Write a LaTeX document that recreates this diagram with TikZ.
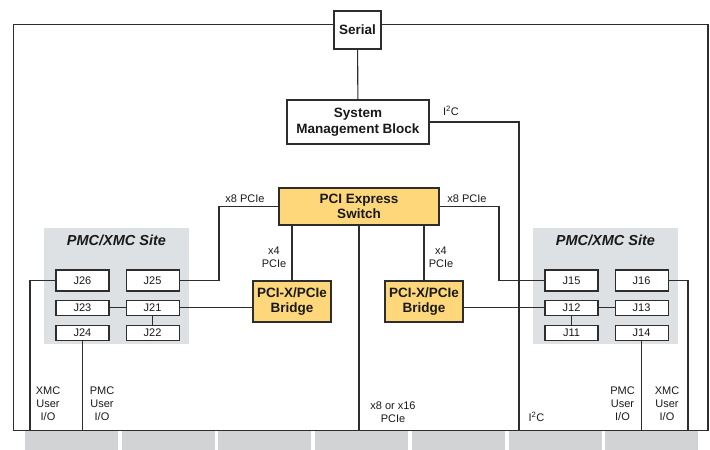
\documentclass[tikz,border=0pt]{standalone}
\usepackage{fontspec}
\setmainfont{Liberation Sans}
\usetikzlibrary{positioning}
\definecolor{swyellow}{RGB}{253,215,122}
\definecolor{sitegray}{RGB}{221,225,228}
\definecolor{slotgray}{RGB}{210,211,213}
\definecolor{linegray}{RGB}{45,45,45}

\begin{document}
\begin{tikzpicture}[x=1pt, y=1pt, line width=1.1pt, text=black!90]
	\tikzstyle{wire}=[draw=linegray]
	\tikzstyle{block}=[draw=linegray, fill=white, inner sep=0pt, align=center, font=\fontsize{13.5}{15.5}\selectfont\bfseries]
	\tikzstyle{chip}=[block, fill=swyellow]
	\tikzstyle{conn}=[draw=linegray, fill=white, minimum width=53pt, inner sep=0pt, font=\fontsize{11}{13}\selectfont]
	\tikzstyle{site}=[fill=sitegray]
	\tikzstyle{slot}=[fill=slotgray]
	\tikzstyle{annot}=[align=center, inner sep=0pt, font=\fontsize{11}{13.3}\selectfont]
	\tikzstyle{title}=[inner sep=0pt, font=\fontsize{14.5}{16}\selectfont\bfseries\itshape]

	\useasboundingbox (0,0) rectangle (710,450);

	\fill[site] (44,106) rectangle (189,222);
	\fill[site] (533,106) rectangle (678,222);
	\foreach \i in {0,...,6}
		\fill[slot] (25+96.7*\i,0) rectangle ++(93,18.7);
	\draw[wire] (13.5,19.5) rectangle (708,425.5);

	\node[block, minimum width=47pt, minimum height=38pt] (serial) at (357.5,420) {Serial};
	\node[block, minimum width=142pt, minimum height=44pt] (smb) at (358,328) {System\\Management Block};
	\node[chip, minimum width=160pt, minimum height=37pt] (sw) at (359,243.5) {PCI Express\\Switch};
	\node[chip, minimum width=78pt, minimum height=41pt] (lbr) at (292,148.5) {PCI-X/PCIe\\Bridge};
	\node[chip, minimum width=78pt, minimum height=41pt] (rbr) at (424,148.5) {PCI-X/PCIe\\Bridge};

	\node[title] (ltitle) at (116.5,210) {PMC/XMC Site};
	\node[conn, minimum height=21pt] (j26) at (82.5,169.5) {J26};
	\node[conn, minimum height=21pt, right=16pt of j26] (j25) {J25};
	\node[conn, minimum height=15pt, below=8pt of j26] (j23) {J23};
	\node[conn, minimum height=15pt, below=8pt of j25] (j21) {J21};
	\node[conn, minimum height=15pt, below=9pt of j23] (j24) {J24};
	\node[conn, minimum height=15pt, below=9pt of j21] (j22) {J22};

	\node[title] (rtitle) at (605.5,210) {PMC/XMC Site};
	\node[conn, minimum height=21pt] (j15) at (571.5,169.5) {J15};
	\node[conn, minimum height=21pt, right=16pt of j15] (j16) {J16};
	\node[conn, minimum height=15pt, below=8pt of j15] (j12) {J12};
	\node[conn, minimum height=15pt, below=8pt of j16] (j13) {J13};
	\node[conn, minimum height=15pt, below=9pt of j12] (j11) {J11};
	\node[conn, minimum height=15pt, below=9pt of j13] (j14) {J14};

	\coordinate (base) at (0,19.5);
	\coordinate (lx8) at (219,169.5);
	\coordinate (rx8) at (499,169.5);
	\coordinate (i2c) at (519,19.5);
	\coordinate (lxmc) at (30,19.5);
	\coordinate (rxmc) at (688,19.5);

	\draw[wire] (serial) -- (smb);
	\draw[wire] (smb.east) -| (i2c);
	\draw[wire] (sw.west) -| (lx8) -- (j25.east);
	\draw[wire] (sw.east) -| (rx8) -- (j15.west);
	\draw[wire] (sw.south) -- (sw.south |- base);
	\draw[wire] (lbr.north) -- (lbr.north |- sw.south);
	\draw[wire] (rbr.north) -- (rbr.north |- sw.south);
	\draw[wire] (j21.east) -- (j21.east -| lbr.west);
	\draw[wire] (j23) -- (j21);
	\draw[wire] (j21) -- (j22);
	\draw[wire] (j26.west) -| (lxmc);
	\draw[wire] (j24.south) -- (j24.south |- base);
	\draw[wire] (j12.west) -- (j12.west -| rbr.east);
	\draw[wire] (j12) -- (j13);
	\draw[wire] (j12) -- (j11);
	\draw[wire] (j16.east) -| (rxmc);
	\draw[wire] (j14.south) -- (j14.south |- base);

	\node[annot] (i2ctop) at (451,339) {I\textsuperscript{2}C};
	\node[annot] (i2cbot) at (536.5,33) {I\textsuperscript{2}C};
	\node[annot] (lx8lab) at (245,251) {x8 PCIe};
	\node[annot] (rx8lab) at (467,251) {x8 PCIe};
	\node[annot] (lx4lab) at (274,193) {x4\\PCIe};
	\node[annot] (rx4lab) at (441,193) {x4\\PCIe};
	\node[annot] (x16lab) at (393,38) {x8 or x16\\PCIe};
	\node[annot] (lxmclab) at (48,46.3) {XMC\\User\\I/O};
	\node[annot] (lpmclab) at (102,46.3) {PMC\\User\\I/O};
	\node[annot] (rpmclab) at (622.5,46.3) {PMC\\User\\I/O};
	\node[annot] (rxmclab) at (667,46.3) {XMC\\User\\I/O};
\end{tikzpicture}
\end{document}
